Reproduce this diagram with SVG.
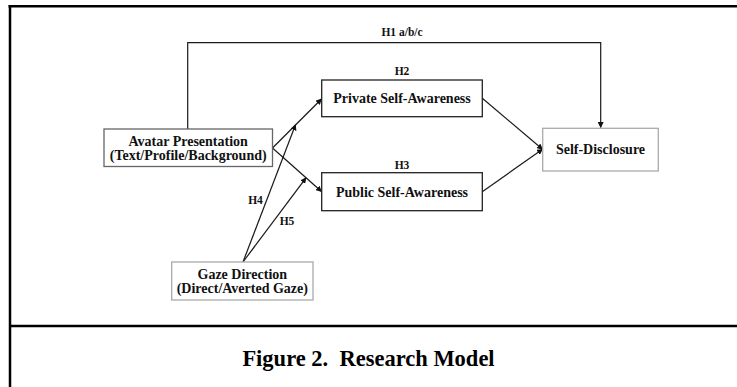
<svg xmlns="http://www.w3.org/2000/svg" width="737" height="387" viewBox="0 0 737 387">
  <defs>
    <marker id="arr" viewBox="0 0 10 10" refX="9" refY="5" markerWidth="6" markerHeight="6" markerUnits="userSpaceOnUse" orient="auto">
      <path d="M0,0 L10,5 L0,10 z" fill="#111"/>
    </marker>
    <style>
      .frame { stroke: #000; stroke-width: 2.5; fill: none; }
      .box { fill: #fff; stroke-width: 1.3; }
      .dark { stroke: #222; }
      .mid { stroke: #666; }
      .light { stroke: #aaa; }
      .lbl { font-family: "Liberation Serif", "Times New Roman", serif; font-weight: bold; fill: #111; text-anchor: middle; }
      .node { font-size: 14px; }
      .hyp { font-size: 11.5px; }
      .con { fill: none; stroke: #1a1a1a; stroke-width: 1.2; marker-end: url(#arr); }
      .cap { font-family: "Liberation Serif", "Times New Roman", serif; font-weight: bold; font-size: 22.5px; fill: #000; text-anchor: middle; }
    </style>
  </defs>
  <rect x="0" y="0" width="737" height="387" fill="#fff"/>

  <g id="frame">
    <line class="frame" x1="8.5" y1="6.3" x2="737" y2="6.3"/>
    <line class="frame" x1="10" y1="5" x2="10" y2="387"/>
    <line class="frame" x1="10" y1="326" x2="737" y2="326"/>
  </g>

  <g id="connectors">
    <path class="con" d="M187.7,129 L187.7,42.7 L600.7,42.7 L600.7,127.5"/>
    <line class="con" x1="272.5" y1="148" x2="321.5" y2="99"/>
    <line class="con" x1="272.5" y1="148" x2="321.5" y2="191.5"/>
    <line class="con" x1="482.3" y1="98.3" x2="542.5" y2="149.3"/>
    <line class="con" x1="482.3" y1="191.7" x2="542.5" y2="149.3"/>
    <line class="con" x1="243" y1="262" x2="295.5" y2="124.8"/>
    <line class="con" x1="243" y1="262" x2="306" y2="177.8"/>
  </g>

  <g id="labels">
    <text class="lbl hyp" x="402" y="36">H1 a/b/c</text>
    <text class="lbl hyp" x="402" y="74.5">H2</text>
    <text class="lbl hyp" x="402" y="169">H3</text>
    <text class="lbl hyp" x="255.5" y="203.5">H4</text>
    <text class="lbl hyp" x="287" y="225">H5</text>
  </g>

  <g id="avatar">
    <rect class="box mid" x="104" y="129" width="168.5" height="37.5"/>
    <text class="lbl node" x="188.2" y="146">Avatar Presentation</text>
    <text class="lbl node" x="188.2" y="160">(Text/Profile/Background)</text>
  </g>

  <g id="private">
    <rect class="box dark" x="321.7" y="80" width="160.6" height="36.7"/>
    <text class="lbl node" x="402" y="103">Private Self-Awareness</text>
  </g>

  <g id="public">
    <rect class="box dark" x="321.7" y="172.7" width="160.6" height="38"/>
    <text class="lbl node" x="402" y="197">Public Self-Awareness</text>
  </g>

  <g id="self-disclosure">
    <rect class="box light" x="542.7" y="128.3" width="115.6" height="42.7"/>
    <text class="lbl node" x="600.5" y="154">Self-Disclosure</text>
  </g>

  <g id="gaze">
    <rect class="box light" x="171.7" y="262" width="141.3" height="38"/>
    <text class="lbl node" x="242.3" y="278.5">Gaze Direction</text>
    <text class="lbl node" x="242.3" y="292.5">(Direct/Averted Gaze)</text>
  </g>

  <g id="caption">
    <text class="cap" x="368.5" y="365.5" xml:space="preserve">Figure 2.  Research Model</text>
  </g>
</svg>
